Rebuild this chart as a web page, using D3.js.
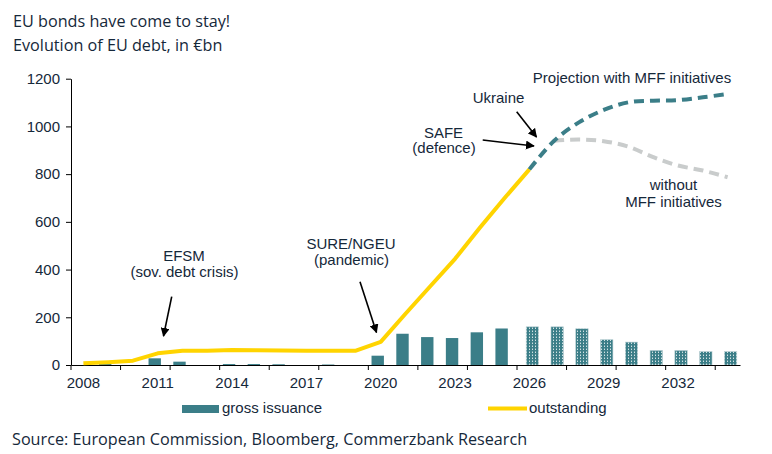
<!DOCTYPE html>
<html><head><meta charset="utf-8">
<script src="https://cdn.jsdelivr.net/npm/d3@7"></script>
<style>
body{margin:0;background:#fff;}
text{font-family:"Liberation Sans",Arial,sans-serif;fill:#15283a;}
.tt{font-family:"Open Sans",sans-serif;}
</style></head>
<body><svg id="c" width="772" height="454"></svg>
<script>
const years = d3.range(2008, 2035);
const issuanceYears = d3.range(2008, 2026);
const issuance = [0, 4, 0, 28, 14, 0, 4, 4, 3, 0, 2, 0, 39, 131, 117, 113, 137, 153];
const projYears = d3.range(2026, 2035);
const projIssuance = [160, 160, 152, 106, 96, 61, 61, 56, 56];
const outYears = d3.range(2008, 2027);
const outstanding = [7, 12, 18, 49, 60, 60, 63, 62, 61, 60, 60, 60, 97, 215, 330, 445, 575, 700, 820];
const withMFFYears = d3.range(2026, 2035);
const withMFF = [820, 940, 1017, 1069, 1101, 1108, 1110, 1122, 1136];
const withoutMFFYears = d3.range(2027, 2035);
const withoutMFF = [940, 945, 938, 915, 871, 836, 815, 787];
const yTicks = [0, 200, 400, 600, 800, 1000, 1200];
const xLabelYears = [2008, 2011, 2014, 2017, 2020, 2023, 2026, 2029, 2032];

const teal = "#3b7e88", yellow = "#ffd400", grey = "#c9cccc";
const svg = d3.select("#c");
const x = d3.scaleBand().domain(years).range([71, 740]).padding(0);
const y = d3.scaleLinear().domain([0, 1200]).range([365, 78.7]);
const bw = x.bandwidth();
const FS = "15px";

const defs = svg.append("defs");
const pat = defs.append("pattern").attr("id","hatch").attr("patternUnits","userSpaceOnUse")
  .attr("width",3).attr("height",3);
pat.append("rect").attr("width",3).attr("height",3).attr("fill",teal);
pat.append("rect").attr("x",1).attr("y",1).attr("width",1).attr("height",1).attr("fill","#d2e3e5");
pat.append("rect").attr("x",1).attr("y",0).attr("width",1).attr("height",1).attr("fill","#7fa9af");
defs.append("marker").attr("id","arr").attr("viewBox","0 0 10 10").attr("refX",9).attr("refY",5)
  .attr("markerWidth",9).attr("markerHeight",9).attr("markerUnits","userSpaceOnUse").attr("orient","auto")
  .append("path").attr("d","M0,0 L10,5 L0,10 Z").attr("fill","#000");

// titles
svg.append("text").attr("class","tt").attr("x",13).attr("y",26.5).style("font-size","16.2px").text("EU bonds have come to stay!");
svg.append("text").attr("class","tt").attr("x",13).attr("y",51).style("font-size","16.2px").text("Evolution of EU debt, in €bn");
svg.append("text").attr("class","tt").attr("x",12).attr("y",445).style("font-size","16.2px").text("Source: European Commission, Bloomberg, Commerzbank Research");

// bars
const barW = bw * 0.5;
svg.append("g").selectAll("rect").data(issuanceYears.map((yr,i)=>({yr,v:issuance[i]}))).join("rect")
  .attr("x", d => x(d.yr) + bw/2 - 3 - barW/2).attr("width", barW)
  .attr("y", d => y(d.v)).attr("height", d => y(0) - y(d.v)).attr("fill", teal);
svg.append("g").selectAll("rect").data(projYears.map((yr,i)=>({yr,v:projIssuance[i]}))).join("rect")
  .attr("x", d => x(d.yr) + bw/2 + 3 - barW/2).attr("width", barW)
  .attr("y", d => y(d.v)).attr("height", d => y(0) - y(d.v)).attr("fill", "url(#hatch)")
  .attr("stroke","#b9d0d3").attr("stroke-width",0.6);

// axes
const ya = svg.append("g").attr("transform","translate(71,0)")
  .call(d3.axisLeft(y).tickValues(yTicks).tickFormat(d3.format("d")).tickSize(5).tickPadding(6).tickSizeOuter(0));
ya.selectAll("text").style("font-size",FS).style("font-family","Liberation Sans, Arial, sans-serif").attr("fill","#15283a");
ya.selectAll("line,path").attr("stroke","#000");
const xa = svg.append("g").attr("transform","translate(0,365)")
  .call(d3.axisBottom(x).tickValues(xLabelYears).tickSize(0).tickPadding(12).tickSizeOuter(0));
xa.selectAll("text").style("font-size",FS).style("font-family","Liberation Sans, Arial, sans-serif").attr("fill","#15283a");
xa.select("path").attr("stroke","#000");
svg.append("g").selectAll("line").data(years.filter((d,i)=>i%2===0)).join("line")
  .attr("x1", d=>x(d)).attr("x2", d=>x(d)).attr("y1",365).attr("y2",370).attr("stroke","#000");

// lines
const lineL = d3.line().x(d=>x(d[0])+bw/2).y(d=>y(d[1]));
const lineC = d3.line().x(d=>x(d[0])+bw/2).y(d=>y(d[1])).curve(d3.curveCatmullRom.alpha(0.5));
svg.append("path").datum(withoutMFFYears.map((yr,i)=>[yr,withoutMFF[i]])).attr("d",lineC)
  .attr("fill","none").attr("stroke",grey).attr("stroke-width",4).attr("stroke-dasharray","10,6");
svg.append("path").datum(outYears.map((yr,i)=>[yr,outstanding[i]])).attr("d",lineL)
  .attr("fill","none").attr("stroke",yellow).attr("stroke-width",4).attr("stroke-linejoin","round");
svg.append("path").datum(withMFFYears.map((yr,i)=>[yr,withMFF[i]])).attr("d",lineC)
  .attr("fill","none").attr("stroke",teal).attr("stroke-width",4).attr("stroke-dasharray","10,6");

// annotations
function t(xp, yp, s){ svg.append("text").attr("x",xp).attr("y",yp).attr("text-anchor","middle").style("font-size",FS).text(s); }
t(184, 260.5, "EFSM"); t(184.5, 277, "(sov. debt crisis)");
t(351, 248.5, "SURE/NGEU"); t(351.5, 264.5, "(pandemic)");
t(443.5, 137.5, "SAFE"); t(444, 153, "(defence)");
t(498.5, 102.5, "Ukraine");
t(632, 82.5, "Projection with MFF initiatives");
t(673.5, 189.5, "without"); t(673.5, 206.5, "MFF initiatives");
function a(x1,y1,x2,y2){ svg.append("line").attr("x1",x1).attr("y1",y1).attr("x2",x2).attr("y2",y2)
  .attr("stroke","#000").attr("stroke-width",1.6).attr("marker-end","url(#arr)"); }
a(171.7, 296.7, 163.5, 336);
a(360, 281.7, 376.5, 332.5);
a(482.7, 140, 534, 146);
a(516.7, 111.7, 536.5, 137);

// legend
svg.append("rect").attr("x",182).attr("y",405).attr("width",37).attr("height",8).attr("fill",teal);
svg.append("text").attr("x",222).attr("y",413).style("font-size",FS).text("gross issuance");
svg.append("line").attr("x1",488).attr("x2",527).attr("y1",408.5).attr("y2",408.5).attr("stroke",yellow).attr("stroke-width",4);
svg.append("text").attr("x",529).attr("y",413).style("font-size",FS).text("outstanding");
</script></body></html>
